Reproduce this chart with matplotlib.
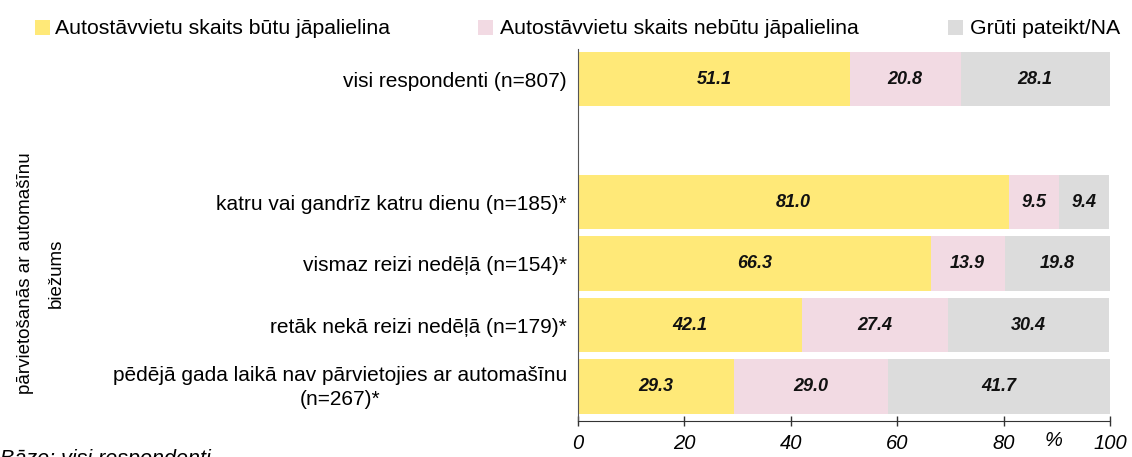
import matplotlib
matplotlib.use("Agg")
import matplotlib.pyplot as plt
from matplotlib.patches import Rectangle
import matplotlib.transforms as mtransforms

plt.rcParams['font.family'] = ['Liberation Sans', 'DejaVu Sans']

categories = [
    "visi respondenti (n=807)",
    "",
    "katru vai gandrīz katru dienu (n=185)*",
    "vismaz reizi nedēļā (n=154)*",
    "retāk nekā reizi nedēļā (n=179)*",
    "pēdējā gada laikā nav pārvietojies ar automašīnu\n(n=267)*",
]
series_names = [
    "Autostāvvietu skaits būtu jāpalielina",
    "Autostāvvietu skaits nebūtu jāpalielina",
    "Grūti pateikt/NA",
]
increase = [51.1, None, 81.0, 66.3, 42.1, 29.3]
no_increase = [20.8, None, 9.5, 13.9, 27.4, 29.0]
hard_to_say = [28.1, None, 9.4, 19.8, 30.4, 41.7]
x_ticks = [0, 20, 40, 60, 80, 100]

colors = ["#FFE978", "#F2DAE3", "#DCDCDC"]

W, H = 1132, 457
fig = plt.figure(figsize=(W / 100, H / 100), dpi=100)
ax = fig.add_axes([578 / W, 1 - 421 / H, (1110 - 578) / W, (421 - 49) / H])

ypos = list(range(len(categories)))
left = [0.0] * len(categories)
for vals, col, name in zip([increase, no_increase, hard_to_say], colors, series_names):
    ys = [y for y, v in zip(ypos, vals) if v is not None]
    vs = [v for v in vals if v is not None]
    ls = [l for l, v in zip(left, vals) if v is not None]
    ax.barh(ys, vs, left=ls, height=0.89, color=col, label=name, edgecolor='none')
    for y, v, l in zip(ys, vs, ls):
        ax.text(l + v / 2, y, f"{v:.1f}", ha='center', va='center',
                fontsize=13, fontweight='bold', fontstyle='italic', color='#111111')
    left = [l + (v if v is not None else 0) for l, v in zip(left, vals)]

ax.set_xlim(0, 100)
ax.set_ylim(5.56, -0.49)
ax.set_yticks(ypos)
ax.set_yticklabels(categories, fontsize=15, linespacing=1.35)
ax.tick_params(axis='y', length=0, pad=8)
last = ax.get_yticklabels()[-1]
last.set_multialignment('center')
last.set_transform(last.get_transform() + mtransforms.ScaledTranslation(0, 4 / 100, fig.dpi_scale_trans))
ax.set_xticks(x_ticks)
ax.set_xticklabels([str(t) for t in x_ticks], fontsize=14.5, fontstyle='italic')
ax.tick_params(axis='x', direction='inout', length=7, width=1, pad=6, color='#333333')
for s in ['top', 'right']:
    ax.spines[s].set_visible(False)
ax.spines['left'].set_color('#555555')
ax.spines['bottom'].set_color('#333333')

fig.text(1053 / W, 1 - 440 / H, "%", fontsize=14.5, fontstyle='italic', ha='center', va='center')
fig.text(41 / W, 1 - 273 / H, "pārvietošanās ar automašīnu\nbiežums", rotation=90,
         fontsize=13.5, ha='center', va='center', multialignment='center', linespacing=2.0)
fig.text(0, 1 - 449 / H, "Bāze: visi respondenti", fontsize=15.5, fontstyle='italic',
         ha='left', va='top')

# legend drawn manually at reference positions
sq_x = [35, 478, 948]
tx_x = [55, 500, 970]
for sx, tx, col, name in zip(sq_x, tx_x, colors, series_names):
    fig.patches.append(Rectangle((sx / W, 1 - 35 / H), 15 / W, 15 / H,
                                 transform=fig.transFigure, facecolor=col, edgecolor='none'))
    fig.text(tx / W, 1 - 28 / H, name, fontsize=15.3, ha='left', va='center')

fig.savefig("out.png", dpi=100)
